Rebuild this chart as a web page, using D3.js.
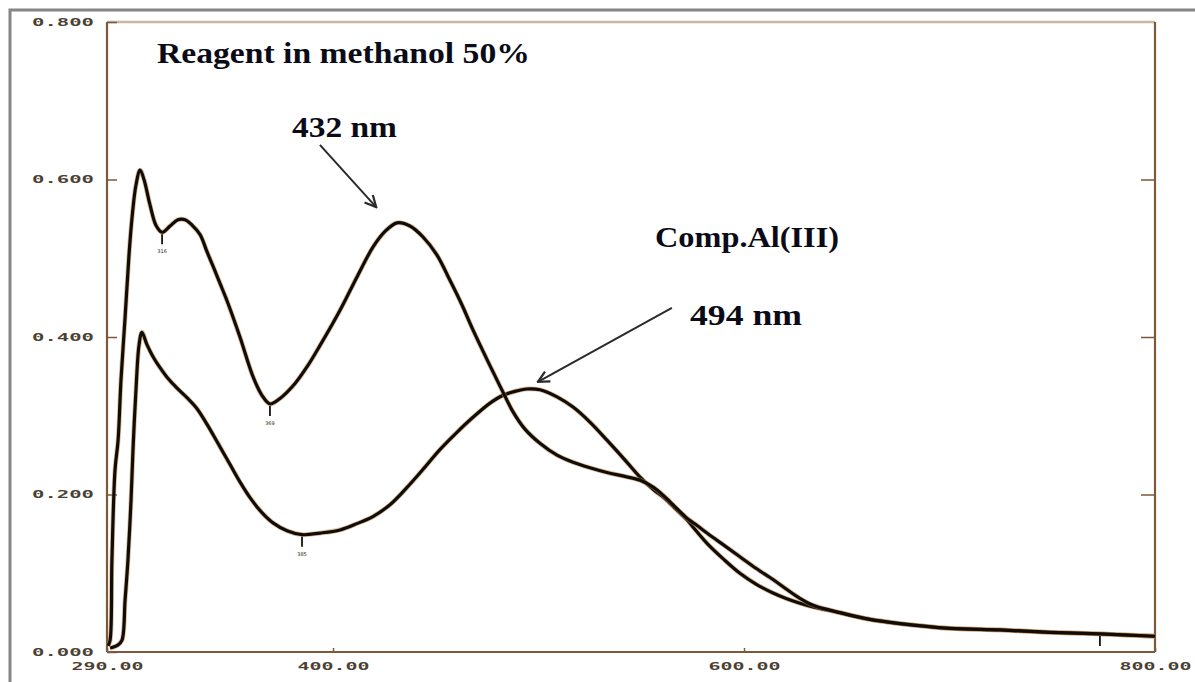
<!DOCTYPE html>
<html>
<head>
<meta charset="utf-8">
<script src="https://cdn.jsdelivr.net/npm/d3@7"></script>
<style>
  html, body { margin: 0; padding: 0; background: #fff; }
  svg { display: block; }
</style>
</head>
<body>
<svg id="chart" width="1195" height="682"></svg>
<script>
// ---- Data (wavelength in nm, absorbance) ----
const xTickValues = [290, 400, 600, 800];
const yTickValues = [0.0, 0.2, 0.4, 0.6, 0.8];

const reagentWavelength = [290.5, 291.5, 292.4, 293.9, 295.4, 296.8, 298.8, 300.7, 302.2, 304.1, 306.1, 308.0, 310.9, 313.8, 316.8, 320.7, 324.5, 328.0, 331.4, 335.3, 338.7, 341.6, 345.0, 348.4, 354.7, 361.0, 365.4, 369.3, 374.2, 381.5, 387.3, 393.6, 403.4, 411.6, 419.4, 425.3, 431.1, 437.4, 443.8, 450.6, 456.9, 462.7, 468.1, 473.9, 477.8, 482.7, 487.6, 493.4, 500.7, 509.0, 516.8, 525.0, 533.3, 542.0, 549.4, 556.0, 561.5, 567.0, 572.2, 577.0, 582.0, 590.0, 598.0, 606.0, 614.1, 620.5, 627.2, 634.0, 646.7, 660.0, 675.9, 700.2, 724.5, 748.9, 773.2, 800.0];
const reagentAbs = [0.008, 0.015, 0.117, 0.231, 0.269, 0.345, 0.425, 0.504, 0.552, 0.593, 0.612, 0.600, 0.568, 0.542, 0.533, 0.541, 0.549, 0.549, 0.542, 0.530, 0.508, 0.490, 0.468, 0.446, 0.400, 0.350, 0.326, 0.315, 0.322, 0.341, 0.362, 0.389, 0.434, 0.476, 0.514, 0.534, 0.545, 0.541, 0.527, 0.504, 0.472, 0.441, 0.409, 0.377, 0.356, 0.330, 0.305, 0.283, 0.265, 0.250, 0.241, 0.234, 0.228, 0.223, 0.218, 0.209, 0.197, 0.183, 0.170, 0.161, 0.151, 0.136, 0.121, 0.106, 0.092, 0.080, 0.068, 0.059, 0.050, 0.042, 0.036, 0.030, 0.028, 0.025, 0.023, 0.020];

const complexWavelength = [291.5, 295.4, 297.3, 298.8, 300.2, 301.7, 302.7, 304.1, 305.6, 307.0, 309.5, 312.4, 315.8, 319.2, 324.1, 328.9, 333.8, 338.7, 344.0, 349.9, 354.7, 359.6, 365.4, 370.8, 377.6, 384.9, 393.6, 403.4, 411.6, 419.4, 427.7, 436.0, 443.8, 452.0, 460.3, 468.1, 476.4, 482.7, 488.5, 494.4, 500.7, 509.0, 516.8, 525.0, 533.3, 542.0, 549.4, 556.0, 561.5, 567.0, 572.2, 577.0, 582.0, 590.0, 598.0, 606.0, 614.1, 620.5, 627.2, 634.0, 646.7, 660.0, 675.9, 700.2, 724.5, 748.9, 773.2, 800.0];
const complexAbs = [0.005, 0.009, 0.015, 0.066, 0.117, 0.193, 0.260, 0.333, 0.390, 0.406, 0.390, 0.375, 0.361, 0.349, 0.335, 0.323, 0.309, 0.289, 0.265, 0.238, 0.216, 0.196, 0.177, 0.164, 0.154, 0.149, 0.151, 0.155, 0.163, 0.172, 0.187, 0.209, 0.232, 0.257, 0.279, 0.298, 0.316, 0.326, 0.331, 0.334, 0.333, 0.324, 0.311, 0.292, 0.269, 0.244, 0.222, 0.206, 0.195, 0.181, 0.168, 0.153, 0.138, 0.118, 0.100, 0.086, 0.075, 0.068, 0.062, 0.057, 0.050, 0.042, 0.036, 0.030, 0.028, 0.025, 0.023, 0.020];

// instrument peak/valley pick marks (wavelength, absorbance, label)
const pickWavelength = [316.8, 369.3, 384.9, 773.2];
const pickAbs = [0.533, 0.315, 0.149, 0.023];
const pickLabels = ["316", "369", "385", ""];

// annotation texts
const titleText = "Reagent in methanol 50%";
const complexText = "Comp.Al(III)";
const peak1Text = "432 nm";
const peak2Text = "494 nm";

// ---- Layout ----
const svg = d3.select("#chart");
const x = d3.scaleLinear().domain([290, 800]).range([107, 1155]);
const y = d3.scaleLinear().domain([0, 0.8]).range([652, 22]);

const axisColor = "#7a5a3a";
const labelColor = "#2e1f10";

// outer grey frame
svg.append("path")
  .attr("d", "M10,690 L10,10 L1200,10")
  .attr("fill", "none").attr("stroke", "#858585").attr("stroke-width", 3);

// plot box
svg.append("line").attr("x1", x(290)).attr("x2", x(800)).attr("y1", y(0.8)).attr("y2", y(0.8))
  .attr("stroke", "#c9b8a0").attr("stroke-width", 2.5);
svg.append("line").attr("x1", x(290)).attr("x2", x(290)).attr("y1", y(0.8)).attr("y2", y(0))
  .attr("stroke", axisColor).attr("stroke-width", 2.2);
svg.append("line").attr("x1", x(800)).attr("x2", x(800)).attr("y1", y(0.8)).attr("y2", y(0))
  .attr("stroke", axisColor).attr("stroke-width", 2.2);
svg.append("line").attr("x1", x(290)).attr("x2", x(800)).attr("y1", y(0)).attr("y2", y(0))
  .attr("stroke", axisColor).attr("stroke-width", 2.2);

// Y axis (left)
const yAxisG = svg.append("g").attr("transform", `translate(${x(290)},0)`)
  .call(d3.axisLeft(y).tickValues(yTickValues).tickFormat(d3.format(".3f")).tickSize(-10).tickPadding(13));
yAxisG.select(".domain").remove();
yAxisG.selectAll(".tick line").attr("stroke", axisColor).attr("stroke-width", 1.5);
yAxisG.selectAll(".tick text")
  .attr("fill", labelColor).attr("font-family", "DejaVu Sans Mono").attr("font-weight", "bold")
  .attr("font-size", 10).attr("textLength", 62).attr("lengthAdjust", "spacingAndGlyphs")
  .attr("opacity", 0.85);

// Y axis (right, ticks only)
const yAxisR = svg.append("g").attr("transform", `translate(${x(800)},0)`)
  .call(d3.axisRight(y).tickValues(yTickValues.slice(1, 4)).tickFormat("").tickSize(-14));
yAxisR.select(".domain").remove();
yAxisR.selectAll(".tick line").attr("stroke", axisColor).attr("stroke-width", 1.5);

// X axis
const xAxisG = svg.append("g").attr("transform", `translate(0,${y(0)})`)
  .call(d3.axisBottom(x).tickValues(xTickValues).tickFormat(d3.format(".2f")).tickSize(-4).tickPadding(11));
xAxisG.select(".domain").remove();
xAxisG.selectAll(".tick line").attr("stroke", axisColor).attr("stroke-width", 1.5);
xAxisG.selectAll(".tick text")
  .attr("fill", labelColor).attr("font-family", "DejaVu Sans Mono").attr("font-weight", "bold")
  .attr("font-size", 10).attr("textLength", 72).attr("lengthAdjust", "spacingAndGlyphs")
  .attr("opacity", 0.85);

// ---- Curves ----
const line = d3.line().x(d => x(d[0])).y(d => y(d[1])).curve(d3.curveCatmullRom.alpha(0.5));
const reagent = reagentWavelength.map((w, i) => [w, reagentAbs[i]]);
const complex = complexWavelength.map((w, i) => [w, complexAbs[i]]);

[complex, reagent].forEach(data => {
  svg.append("path").datum(data).attr("d", line)
    .attr("fill", "none").attr("stroke", "#b98a55").attr("stroke-width", 4.8)
    .attr("stroke-opacity", 0.55).attr("stroke-linejoin", "round");
  svg.append("path").datum(data).attr("d", line)
    .attr("fill", "none").attr("stroke", "#120c06").attr("stroke-width", 3.2)
    .attr("stroke-linejoin", "round");
});

// pick marks
pickWavelength.forEach((w, i) => {
  const px = x(w), py = y(pickAbs[i]);
  svg.append("line").attr("x1", px).attr("x2", px).attr("y1", py + 2).attr("y2", py + 12)
    .attr("stroke", "#1a1208").attr("stroke-width", 1.8);
  if (pickLabels[i]) {
    svg.append("text").attr("x", px).attr("y", py + 21).attr("text-anchor", "middle")
      .attr("font-family", "DejaVu Sans").attr("font-size", 5).attr("fill", "#2a1c10")
      .text(pickLabels[i]);
  }
});

// ---- Annotations ----
const textColor = "#0b0b18";
function label(txt, wx, ay, len) {
  svg.append("text").attr("x", x(wx)).attr("y", y(ay))
    .attr("font-family", "Liberation Serif, Times New Roman, serif").attr("font-weight", "bold")
    .attr("font-size", 30).attr("fill", textColor)
    .attr("textLength", len).attr("lengthAdjust", "spacingAndGlyphs")
    .text(txt);
}
label(titleText, 314.3, 0.748, 373);
label(peak1Text, 380.0, 0.654, 105);
label(complexText, 556.7, 0.514, 184);
label(peak2Text, 573.7, 0.415, 112);

// arrows
const defs = svg.append("defs");
defs.append("marker").attr("id", "arr").attr("viewBox", "0 0 10 10").attr("refX", 9).attr("refY", 5)
  .attr("markerWidth", 7).attr("markerHeight", 7).attr("orient", "auto")
  .append("path").attr("d", "M1,1 L9,5 L1,9").attr("fill", "none").attr("stroke", "#2a2a2a").attr("stroke-width", 1.6);

function arrow(w1, a1, w2, a2) {
  svg.append("line").attr("x1", x(w1)).attr("y1", y(a1)).attr("x2", x(w2)).attr("y2", y(a2))
    .attr("stroke", "#2a2a2a").attr("stroke-width", 2).attr("marker-end", "url(#arr)");
}
arrow(393.6, 0.644, 421.0, 0.565);
arrow(564.9, 0.437, 499.7, 0.343);
</script>
</body>
</html>
